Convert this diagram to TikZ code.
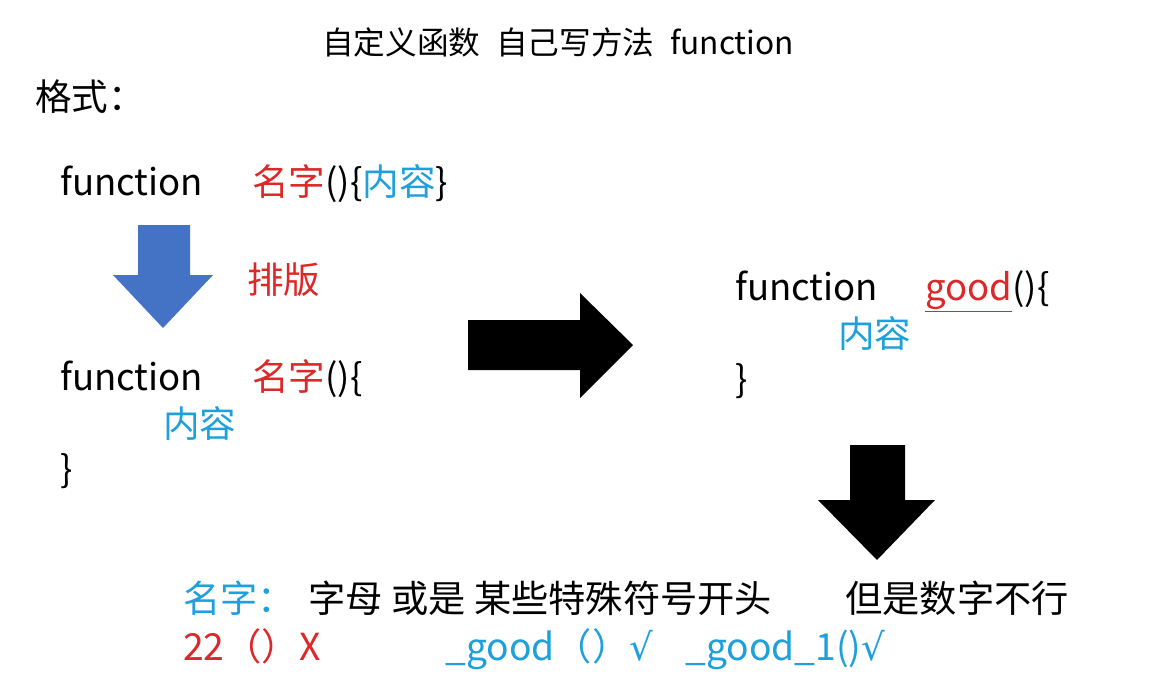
\documentclass[tikz,border=0pt]{standalone}
\usepackage{fontspec}
\setmainfont{Noto Sans CJK SC}
\newfontfamily\symf{DejaVu Sans}
\begin{document}
\begin{tikzpicture}[x=0.025cm,y=-0.025cm,
  t/.style={anchor=base west,inner sep=0pt},
  big/.style={t,font=\fontsize{26}{28}\selectfont},
  mid/.style={t,font=\fontsize{26.5}{28}\selectfont},
  ttl/.style={t,font=\fontsize{22.5}{26}\selectfont}]
\definecolor{rd}{RGB}{220,40,40}
\definecolor{cy}{RGB}{30,160,220}
\definecolor{bl}{RGB}{68,114,196}
\useasboundingbox (0,0) rectangle (1172,690);
\fill[white] (0,0) rectangle (1172,690);
\node[ttl] (title) at (322,55) {自定义函数\enspace 自己写方法\enspace function};
\node[big] (fmt) at (35,110) {格式：};
\node[big] (f1) at (60,195) {function};
\node[big,text=rd] (n1) at (252,195) {名字\textcolor{black}{()\{}\textcolor{cy}{内容}\textcolor{black}{\}}};
\fill[bl] (138,225) -- (190,225) -- (190,275) -- (213,275) -- (163,328) -- (113,275) -- (138,275) -- cycle;
\node[big,text=rd] (pb) at (247,293) {排版};
\node[big] (f2) at (60,390) {function};
\node[big,text=rd] (n2) at (252,390) {名字\textcolor{black}{()\{}};
\node[big,text=cy] (c2) at (163,437) {内容};
\node[big] (b2) at (60,482) {\}};
\fill[black] (468,320) -- (580,320) -- (580,293) -- (633,345) -- (580,398) -- (580,370) -- (468,370) -- cycle;
\node[big] (f3) at (735,300) {function};
\node[big,text=rd] (g3) at (925,300) {\underline{good}\textcolor{black}{()\{}};
\node[big,text=cy] (c3) at (838,347) {内容};
\node[big] (b3) at (735,392) {\}};
\fill[black] (850,445) -- (905,445) -- (905,500) -- (935,500) -- (877,560) -- (818,500) -- (850,500) -- cycle;
\node[mid,text=cy] (nm) at (183,612) {名字：};
\node[mid] (r1) at (308,612) {字母 或是 某些特殊符号开头};
\node[mid] (r2) at (845,612) {但是数字不行};
\node[mid,text=rd] (x1) at (183,660) {22（）X};
\node[mid,text=cy] (g1) at (445,660) {\_good（）{\symf √}};
\node[mid,text=cy] (g2) at (685,660) {\_good\_1(){\symf √}};
\end{tikzpicture}
\end{document}
